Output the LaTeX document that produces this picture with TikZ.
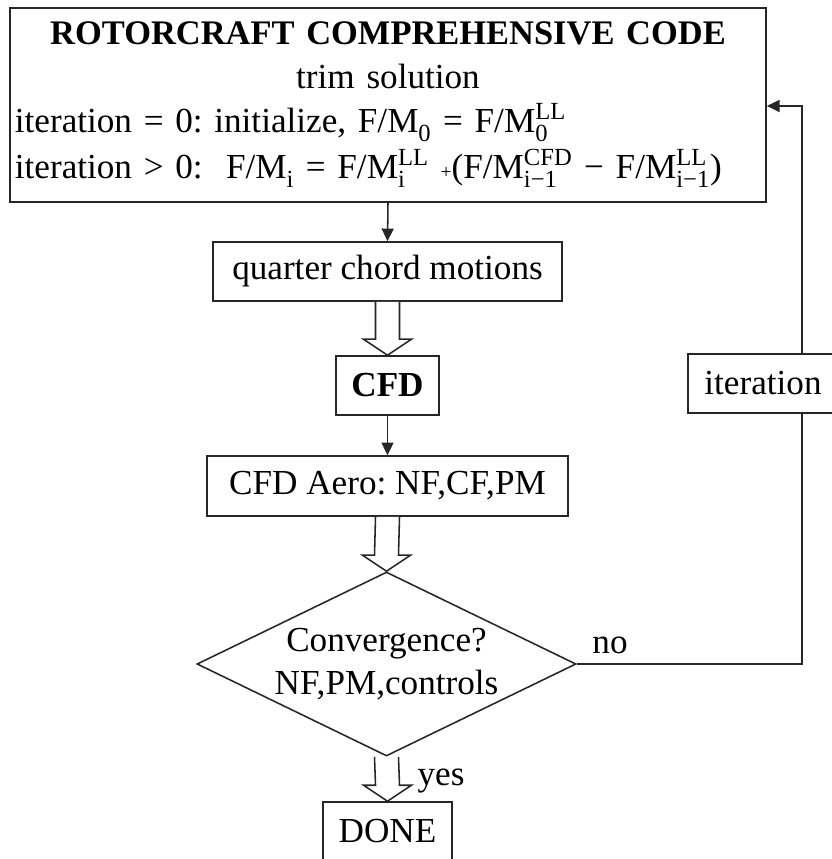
\documentclass[tikz,border=0pt]{standalone}
\usepackage{fontspec}
\usepackage{amsmath}
\setmainfont{Liberation Serif}
\usetikzlibrary{positioning, arrows.meta, calc, shapes.geometric}
\frenchspacing

% F/M with stacked super- and subscript
\newcommand{\FM}[2]{F/M\ensuremath{^{\text{#1}}_{\text{#2}}}}
% hollow block arrow from #1 down to #2
\newcommand{\fatarrow}[2]{%
    \draw[fat] ($(#1)+(-12,0)$) -- ($(#2)+(-12,-16)$) -- ($(#2)+(-24,-16)$) -- (#2)
        -- ($(#2)+(24,-16)$) -- ($(#2)+(12,-16)$) -- ($(#1)+(12,0)$);}

\begin{document}
\begin{tikzpicture}[
    x=0.025cm, y=-0.025cm,
    font=\fontsize{25}{31}\selectfont,
    box/.style={draw=black!85, line width=1.1pt, fill=white, inner sep=0pt},
    arrow/.style={-{Triangle[length=9pt, width=8.5pt]}, line width=1.1pt, draw=black!85},
    fat/.style={line width=1.1pt, draw=black!85, fill=white, line join=miter},
    decision/.style={diamond, draw=black!85, line width=1.1pt, fill=white, inner sep=0pt}
]
\useasboundingbox (0,0) rectangle (831,859);

% Comprehensive code box
\node[box, minimum width=18.9cm, minimum height=4.85cm, text width=18.65cm, align=center] (rcc) at (388,105) {%
    {\fontsize{24.5}{31}\selectfont\bfseries ROTORCRAFT COMPREHENSIVE CODE}\\
    trim solution\\
    \makebox[\linewidth][l]{iteration = 0: initialize, \FM{}{0} = \FM{LL}{0}}\\[2pt]
    \makebox[\linewidth][l]{iteration > 0:\ \ \FM{}{i} = \FM{LL}{i} {\fontsize{14}{14}\selectfont +}(\FM{CFD}{i−1} − \FM{LL}{i−1})}};

% Flow down the middle
\node[box, minimum width=8.725cm, minimum height=1.475cm] (qcm) at (387.5,271.5) {quarter chord motions};
\node[box, minimum width=2.575cm, minimum height=1.475cm, font=\fontsize{25}{31}\selectfont\bfseries] (cfd) at (387.5,385.5) {CFD};
\node[box, minimum width=9.025cm, minimum height=1.5cm] (aero) at (387.5,486) {CFD Aero: NF,CF,PM};
\node[decision, minimum width=9.475cm, minimum height=4.6cm,
      label={[align=center]center:Convergence?\\NF,PM,controls}] (conv) at (386.5,664) {};
\node[box, minimum width=3.225cm, minimum height=1.475cm] (done) at (387.5,831.5) {DONE};

\draw[arrow] (rcc.south) -- (qcm.north);
\fatarrow{qcm.south}{cfd.north}
\draw[arrow] (cfd.south) -- (aero.north);
\fatarrow{aero.south}{conv.north}
\fatarrow{conv.south}{done.north}

% Loop back
\coordinate (loopcorner) at (802,106);
\draw[arrow] (conv.east) -| (loopcorner) -- (loopcorner -| rcc.east);
\node[box, minimum width=3.75cm, minimum height=1.475cm] (iter) at (763,383.5) {iteration};

\node (nolabel) at (610,645) {no};
\node (yeslabel) at (441,781) {yes};

\end{tikzpicture}
\end{document}
